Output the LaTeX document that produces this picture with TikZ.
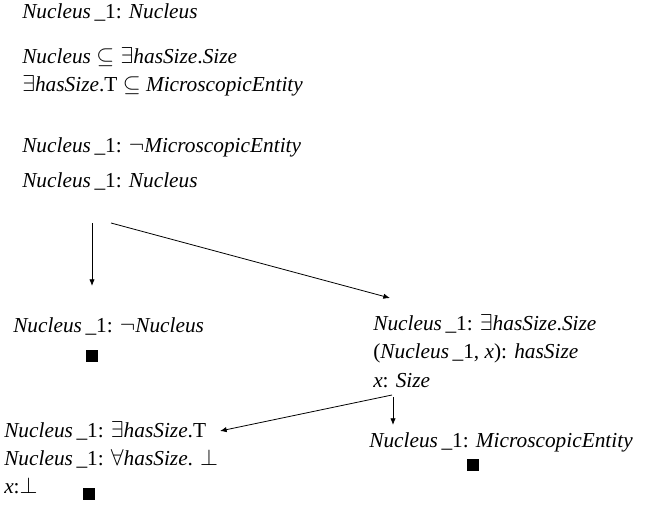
\documentclass[tikz,border=0pt]{standalone}
\usepackage{fontspec}
\setmainfont{Liberation Serif}
\usepackage{tikz}
\usetikzlibrary{arrows.meta}
\newcommand{\nuc}{\textit{Nucleus}\,\_1}
\newcommand{\hs}{\textit{hasSize}}

\begin{document}
\begin{tikzpicture}[x=0.75pt,y=-0.75pt,
  lbl/.style={anchor=base west, inner sep=0pt, font=\fontsize{16}{19}\selectfont},
  clash/.style={fill=black, inner sep=0pt, minimum size=9.5pt},
  rule/.style={-{Latex[length=5pt,width=4pt]}, line width=0.6pt}]
  \useasboundingbox (0,0) rectangle (657,510);
  % knowledge base
  \node[lbl] (a0) at (22,19) {\nuc: \textit{Nucleus}};
  \node[lbl] (ax1) at (22,64) {\textit{Nucleus} $\subseteq\exists$\hs.\textit{Size}};
  \node[lbl] (ax2) at (22,92) {$\exists$\hs.T $\subseteq$ \textit{MicroscopicEntity}};
  \node[lbl] (r1) at (22,152) {\nuc: $\neg$\textit{MicroscopicEntity}};
  \node[lbl] (r2) at (22,187) {\nuc: \textit{Nucleus}};
  % left branch
  \node[lbl] (negN) at (13,332) {\nuc: $\neg$\textit{Nucleus}};
  \node[clash] (c1) at (92,356) {};
  % right branch
  \node[lbl] (ex1) at (373,330) {\nuc: $\exists$\hs.\textit{Size}};
  \node[lbl] (ex2) at (373,358) {(\nuc, \textit{x}): \hs};
  \node[lbl] (ex3) at (373,387) {\textit{x}: \textit{Size}};
  \node[lbl] (all1) at (4,437) {\nuc: $\exists$\hs.T};
  \node[lbl] (all2) at (4,465) {\nuc: $\forall$\hs. $\bot$};
  \node[lbl] (all3) at (4,493) {\textit{x}:$\bot$};
  \node[clash] (c2) at (89,494) {};
  \node[lbl] (mic) at (369,447) {\nuc: \textit{MicroscopicEntity}};
  \node[clash] (c3) at (473,465) {};
  % branch points
  \coordinate (s1) at (92,223);
  \coordinate (e1) at (92,286);
  \coordinate (s2) at (111,223);
  \coordinate (e2) at (390,298);
  \coordinate (s3) at (392,395);
  \coordinate (e3) at (220,431);
  \coordinate (s4) at (393,397);
  \coordinate (e4) at (393,425);
  \draw[rule] (s1) -- (e1);
  \draw[rule] (s2) -- (e2);
  \draw[rule] (s3) -- (e3);
  \draw[rule] (s4) -- (e4);
\end{tikzpicture}
\end{document}
